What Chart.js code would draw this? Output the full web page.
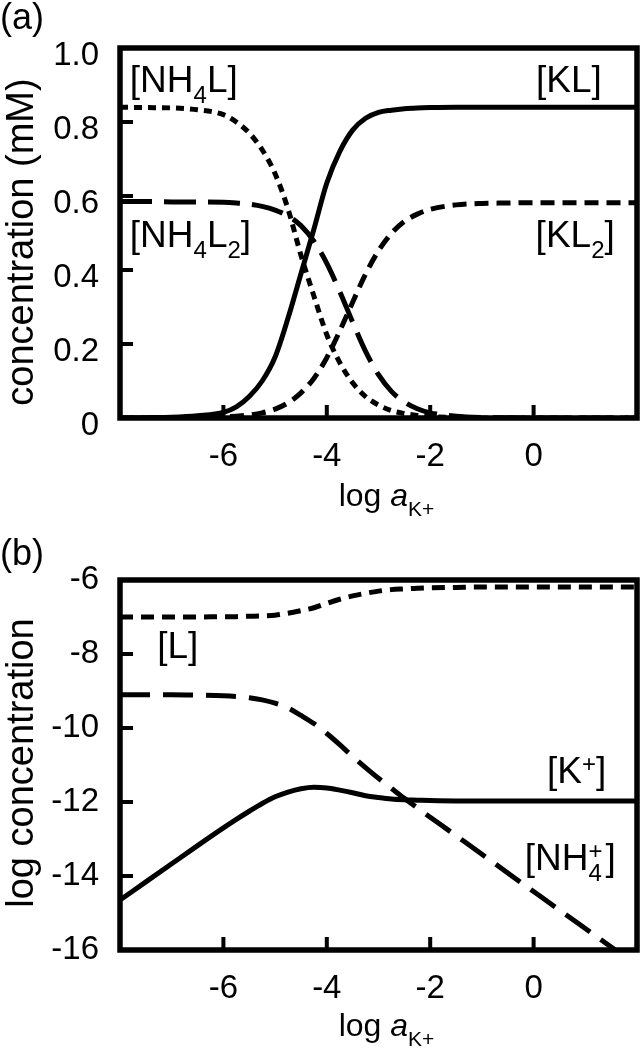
<!DOCTYPE html>
<html lang="en">
<head>
  <meta charset="UTF-8">
  <title>Species distribution vs log aK+</title>
  <script src="https://cdn.jsdelivr.net/npm/chart.js"></script>
  <style>
    body { margin: 0; background: #fff; }
    .panel { position: absolute; left: 0; width: 641px; }
    #panelA { top: 0; height: 540px; }
    #panelB { top: 510px; height: 540px; }
  </style>
</head>
<body>
  <div class="panel" id="panelA"><canvas id="chartA" width="641" height="540"></canvas></div>
  <div class="panel" id="panelB"><canvas id="chartB" width="641" height="540"></canvas></div>

  <script>
    // x axis: log a_K+
    const logaK = [-8, -7.5, -7, -6.5, -6, -5.75, -5.5, -5.25, -5, -4.75, -4.5, -4.25, -4, -3.75, -3.5,
                   -3.25, -3, -2.75, -2.5, -2.25, -2, -1.5, -1, -0.5, 0, 0.5, 1, 1.5, 2];

    // panel (a): concentration (mM)
    const concNH4L  = [0.840, 0.839, 0.838, 0.833, 0.820, 0.800, 0.770, 0.725, 0.660, 0.565, 0.440, 0.330, 0.225, 0.150, 0.095,
                       0.058, 0.035, 0.020, 0.012, 0.007, 0.004, 0.001, 0, 0, 0, 0, 0, 0, 0];
    const concNH4L2 = [0.585, 0.585, 0.584, 0.584, 0.583, 0.581, 0.578, 0.572, 0.562, 0.546, 0.520, 0.478, 0.418, 0.342, 0.259,
                       0.180, 0.117, 0.072, 0.043, 0.025, 0.014, 0.005, 0.0015, 0.0005, 0, 0, 0, 0, 0];
    const concKL    = [0.000, 0.001, 0.002, 0.006, 0.015, 0.030, 0.058, 0.100, 0.165, 0.270, 0.390, 0.510, 0.635, 0.720, 0.778,
                       0.810, 0.826, 0.832, 0.836, 0.838, 0.839, 0.840, 0.840, 0.840, 0.840, 0.840, 0.840, 0.840, 0.840];
    const concKL2   = [0, 0, 0.0003, 0.001, 0.003, 0.005, 0.008, 0.014, 0.024, 0.041, 0.068, 0.107, 0.163, 0.235, 0.313,
                       0.389, 0.452, 0.499, 0.531, 0.551, 0.564, 0.576, 0.580, 0.581, 0.582, 0.582, 0.582, 0.582, 0.582];

    // panel (b): log concentration
    const logL   = [-7.00, -7.00, -7.00, -7.00, -6.99, -6.99, -6.98, -6.97, -6.95, -6.90, -6.83, -6.75, -6.63, -6.52, -6.43,
                    -6.36, -6.30, -6.26, -6.24, -6.22, -6.21, -6.20, -6.19, -6.19, -6.19, -6.19, -6.19, -6.19, -6.19];
    const logNH4 = [-9.10, -9.10, -9.10, -9.11, -9.13, -9.15, -9.18, -9.24, -9.33, -9.46, -9.66, -9.88, -10.15, -10.45, -10.77,
                    -11.07, -11.36, -11.63, -11.90, -12.16, -12.41, -12.91, -13.41, -13.92, -14.42, -14.92, -15.42, -15.92, -16.42];
    const logK   = [-14.65, -14.16, -13.67, -13.18, -12.70, -12.47, -12.25, -12.04, -11.86, -11.73, -11.64, -11.60, -11.62, -11.68, -11.75,
                    -11.83, -11.88, -11.92, -11.94, -11.95, -11.96, -11.97, -11.97, -11.97, -11.97, -11.97, -11.97, -11.97, -11.97];

    // ticks
    const xTicks = [-6, -4, -2, 0];
    const yTicksA = [0, 0.2, 0.4, 0.6, 0.8, 1.0];
    const yTickLabelsA = ['0', '0.2', '0.4', '0.6', '0.8', '1.0'];
    const yTicksB = [-16, -14, -12, -10, -8, -6];

    const FONT = '"Liberation Sans", Arial, Helvetica, sans-serif';
    Chart.defaults.font.family = FONT;
    Chart.defaults.color = '#000';

    const pts = arr => logaK.map((x, i) => ({ x: x, y: arr[i] }));

    function line(data, dash) {
      return {
        data: pts(data),
        borderColor: '#000',
        borderWidth: 5,
        borderDash: dash,
        pointRadius: 0,
        fill: false,
        cubicInterpolationMode: 'monotone'
      };
    }

    // text with sub/superscripts; parts: {t, s: sub, u: sup, i: italic, over: stacked on previous}
    function drawRich(ctx, parts, x, y, size, small, align) {
      const fontOf = p => (p.i ? 'italic ' : '') + (p.s || p.u ? small : size) + 'px ' + FONT;
      const adv = parts.map(p => { ctx.font = fontOf(p); return ctx.measureText(p.t).width; });
      const xs = [];
      let cx = 0;
      parts.forEach((p, i) => {
        if (p.over) {
          xs.push(xs[i - 1]);
          cx = xs[i - 1] + Math.max(adv[i - 1], adv[i]) + (p.gap || 0);
        } else {
          xs.push(cx);
          cx += adv[i];
        }
      });
      const x0 = align === 'right' ? x - cx : align === 'center' ? x - cx / 2 : x;
      ctx.textBaseline = 'alphabetic';
      ctx.textAlign = 'left';
      parts.forEach((p, i) => {
        ctx.font = fontOf(p);
        const dy = p.s ? size * 0.3 : p.u ? -size * 0.3 : 0;
        ctx.fillText(p.t, x0 + xs[i], y + dy);
      });
    }

    const xTitleParts = [{ t: 'log ' }, { t: 'a', i: 1 }, { t: 'K+', s: 1 }];

    // frame, inner tick marks and text annotations
    const framePlugin = {
      id: 'frame',
      afterDatasetsDraw(chart, args, o) {
        const { ctx, chartArea: a, scales } = chart;
        ctx.save();
        ctx.strokeStyle = '#000';
        ctx.lineWidth = 4;
        ctx.beginPath();
        scales.y.ticks.forEach(t => {
          const py = scales.y.getPixelForValue(t.value);
          ctx.moveTo(a.left, py); ctx.lineTo(a.left + 13, py);
        });
        scales.x.ticks.forEach(t => {
          const px = scales.x.getPixelForValue(t.value);
          ctx.moveTo(px, a.bottom); ctx.lineTo(px, a.bottom - 13);
        });
        ctx.stroke();
        ctx.lineWidth = 5.5;
        ctx.strokeRect(a.left, a.top, a.right - a.left, a.bottom - a.top);
        ctx.restore();
      },
      afterDraw(chart, args, o) {
        const { ctx, chartArea: a, scales } = chart;
        ctx.save();
        ctx.fillStyle = '#000';
        // panel letter
        ctx.font = '36px ' + FONT;
        ctx.textAlign = 'left';
        ctx.textBaseline = 'alphabetic';
        ctx.fillText(o.letter, 0, o.letterY);
        // y title
        ctx.save();
        ctx.translate(33, o.yTitleY);
        ctx.rotate(-Math.PI / 2);
        ctx.font = '38px ' + FONT;
        ctx.textAlign = 'center';
        ctx.fillText(o.yTitle, 0, 0);
        ctx.restore();
        // x title
        drawRich(ctx, xTitleParts, (a.left + a.right) / 2 + 8, o.xTitleY, 32, 21, 'center');
        // curve labels
        o.labels.forEach(l => {
          drawRich(ctx, l.parts, scales.x.getPixelForValue(l.x), scales.y.getPixelForValue(l.y), 37, 24, l.align);
        });
        ctx.restore();
      }
    };

    function axes(yMin, yMax, yTicks, yLabel, xHeight) {
      return {
        x: {
          type: 'linear', min: -8, max: 2,
          afterBuildTicks: s => { s.ticks = xTicks.map(v => ({ value: v })); },
          afterFit: s => { s.height = xHeight; },
          grid: { display: false, drawTicks: false },
          border: { display: false },
          ticks: { font: { size: 33 }, padding: 19, maxRotation: 0, callback: v => String(v) }
        },
        y: {
          type: 'linear', min: yMin, max: yMax,
          afterBuildTicks: s => { s.ticks = yTicks.map(v => ({ value: v })); },
          afterFit: s => { s.width = 120; },
          grid: { display: false, drawTicks: false },
          border: { display: false },
          ticks: { font: { size: 33 }, padding: 21, labelOffset: yLabel.offset, callback: yLabel.fmt }
        }
      };
    }

    new Chart(document.getElementById('chartA'), {
      type: 'line',
      data: {
        datasets: [
          line(concNH4L, [8, 6]),
          line(concNH4L2, [32, 12]),
          line(concKL, []),
          line(concKL2, [14, 8])
        ]
      },
      options: {
        responsive: false,
        animation: false,
        layout: { padding: { top: 48, right: 4, left: 0, bottom: 0 } },
        scales: axes(0, 1, yTicksA, { offset: 8, fmt: (v, i) => yTickLabelsA[i] }, 122),
        plugins: {
          legend: { display: false },
          tooltip: { enabled: false },
          frame: {
            letter: '(a)', letterY: 29,
            yTitle: 'concentration (mM)', yTitleY: 242,
            xTitleY: 506,
            labels: [
              { x: -7.81, y: 0.881, align: 'left', parts: [{ t: '[NH' }, { t: '4', s: 1 }, { t: 'L]' }] },
              { x: -7.81, y: 0.462, align: 'left', parts: [{ t: '[NH' }, { t: '4', s: 1 }, { t: 'L' }, { t: '2', s: 1 }, { t: ']' }] },
              { x: 1.32, y: 0.881, align: 'right', parts: [{ t: '[KL]' }] },
              { x: 1.57, y: 0.462, align: 'right', parts: [{ t: '[KL' }, { t: '2', s: 1 }, { t: ']' }] }
            ]
          }
        }
      },
      plugins: [framePlugin]
    });

    new Chart(document.getElementById('chartB'), {
      type: 'line',
      data: {
        datasets: [
          line(logL, [13, 8]),
          line(logNH4, [30, 13]),
          line(logK, [])
        ]
      },
      options: {
        responsive: false,
        animation: false,
        layout: { padding: { top: 70, right: 4, left: 0, bottom: 0 } },
        scales: axes(-16, -6, yTicksB, { offset: 0, fmt: v => String(v) }, 100),
        plugins: {
          legend: { display: false },
          tooltip: { enabled: false },
          frame: {
            letter: '(b)', letterY: 55,
            yTitle: 'log concentration', yTitleY: 253,
            xTitleY: 526,
            labels: [
              { x: -7.28, y: -8.11, align: 'left', parts: [{ t: '[L]' }] },
              { x: 0.26, y: -11.49, align: 'left', parts: [{ t: '[K' }, { t: '+', u: 1 }, { t: ']' }] },
              { x: -0.17, y: -13.84, align: 'left', parts: [{ t: '[NH' }, { t: '4', s: 1 }, { t: '+', u: 1, over: 1, gap: 3 }, { t: ']' }] }
            ]
          }
        }
      },
      plugins: [framePlugin]
    });
  </script>
</body>
</html>
